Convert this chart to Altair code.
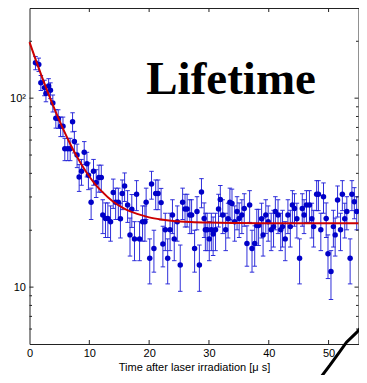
import altair as alt
import pandas as pd

# ---- data ----
t_vals = [1.0, 1.55, 1.9, 2.5, 2.75, 3.2, 3.5, 3.9, 4.4, 4.8, 5.2, 5.6, 5.9, 6.4, 6.8, 7.2, 7.5, 7.95, 8.3, 8.7, 9.15, 9.6,
          9.85, 10.3, 10.7, 11.15, 11.6, 12.0, 12.25, 12.7, 13.1, 13.55, 14.0, 14.4, 14.85, 15.2, 15.5, 15.9, 16.4, 16.8,
          17.1, 17.55, 17.9, 18.4, 18.9, 19.3, 19.5,
          20.1, 20.4, 20.8, 21.1, 21.5, 22.0, 22.3, 22.7, 23.1, 23.5, 23.9, 24.2, 24.7, 25.2, 25.6, 26.0, 26.35, 26.8,
          27.1, 27.6, 28.0, 28.4, 28.75, 29.2,
          29.4, 29.7, 30.05, 30.4, 30.7, 31.1, 31.6, 31.9, 32.3, 32.8, 33.2, 33.5, 33.85, 34.3, 34.7, 35.05, 35.5, 35.9,
          36.35, 36.8, 37.2, 37.65, 38.0, 38.3, 38.8, 39.05,
          39.5, 39.9, 40.4, 40.8, 41.1, 41.55, 42.0, 42.3, 42.75, 43.2, 43.6, 43.95, 44.3, 44.7, 45.15, 45.6, 45.9, 46.3,
          46.8, 47.2, 47.5, 48.0, 48.3, 48.7,
          49.15, 49.6, 49.9, 50.4, 50.8, 51.1, 51.5, 52.0, 52.3, 52.7, 53.05, 53.6, 53.9, 54.3, 54.7]
counts = [153.8, 150.6, 120.8, 113.7, 106, 116, 110, 94.2, 78.2, 78, 71, 71, 54, 54, 54, 75, 59, 50, 38.3, 41, 51.7, 45,
          39.1, 28.1, 41, 35.8, 38, 38, 24.1, 23.1, 23.1, 22.2, 31.7, 28.1, 28.1, 23, 31.3, 34.3, 27.2, 18.9,
          25.8, 18, 31, 18, 22.2, 22.2, 28.1,
          14.2, 35.1, 16, 31.3, 31.3, 28, 16.9, 20.1, 14.2, 20.1, 24.1, 18, 22.2, 13.1, 28.1, 25.9, 25.9, 24.1,
          24.1, 16, 25.1, 13.1, 31.9, 23.1,
          20.1, 20.1, 18, 20.1, 19.1, 20.1, 25.9, 29.1, 24.1, 20.1, 23, 28.1, 27.7, 22.2, 25.1, 23.1, 24.1, 26.1,
          17, 27.2, 16, 17, 21.2, 21.2, 23, 18.9,
          24.1, 22.2, 20.1, 20.9, 25.1, 24.1, 20.1, 20.9, 18, 24.1, 20.9, 27.2, 26.1, 23, 14.2, 26.1, 24.1, 27.2,
          27.2, 23, 20.9, 31, 31, 20.1,
          30.1, 23.1, 15, 12.1, 20.9, 18.9, 28.9, 20.1, 31, 23, 25.1, 14.2, 31, 28.3, 25.1]
errors = [12.4, 12.3, 11.0, 10.7, 10.3, 10.8, 10.5, 9.7, 8.8, 8.8, 8.4, 8.4, 7.3, 7.3, 7.3, 8.7, 7.7, 7.1, 6.2, 6.4, 7.2, 6.7,
          6.3, 5.3, 6.4, 6.0, 6.2, 6.2, 4.9, 4.8, 4.8, 4.7, 5.6, 5.3, 5.3, 4.8, 5.6, 5.9, 5.2, 4.3,
          5.1, 4.2, 5.6, 4.2, 4.7, 4.7, 5.3,
          3.8, 5.9, 4.0, 5.6, 5.6, 5.3, 4.1, 4.5, 3.8, 4.5, 4.9, 4.2, 4.7, 3.6, 5.3, 5.1, 5.1, 4.9,
          4.9, 4.0, 5.0, 3.6, 5.6, 4.8,
          4.5, 4.5, 4.2, 4.5, 4.4, 4.5, 5.1, 5.4, 4.9, 4.5, 4.8, 5.3, 5.3, 4.7, 5.0, 4.8, 4.9, 5.1,
          4.1, 5.2, 4.0, 4.1, 4.6, 4.6, 4.8, 4.3,
          4.9, 4.7, 4.5, 4.6, 5.0, 4.9, 4.5, 4.6, 4.2, 4.9, 4.6, 5.2, 5.1, 4.8, 3.8, 5.1, 4.9, 5.2,
          5.2, 4.8, 4.6, 5.6, 5.6, 4.5,
          5.5, 4.8, 3.9, 3.5, 4.6, 4.3, 5.4, 4.5, 5.6, 4.8, 5.0, 3.8, 5.6, 5.3, 5.0]

fit_t = [0, 1, 2, 3, 4, 5, 6, 7, 8, 9, 10, 11, 12, 14, 16, 18, 20, 22, 24, 27, 30, 35, 40, 55]
fit_v = [197.8, 160.9, 131.7, 108.7, 90.5, 76.1, 64.7, 55.7, 48.6, 43.0, 38.5, 35.0, 32.3, 28.3, 25.9, 24.4,
         23.4, 22.8, 22.4, 22.1, 21.95, 21.85, 21.8, 21.8]

# decorative black arc in the lower right corner (partly outside the axes)
arc_t = [57.5, 56.4, 54.7, 53.0, 51.6, 50.2, 48.3, 47.7]
arc_v = [7.2, 6.63, 5.76, 5.11, 4.43, 3.85, 3.21, 3.08]

y_major = [10, 100]
y_minor = [6, 7, 8, 9, 20, 30, 40, 50, 60, 70, 80, 90, 200]
x_ticks = [10, 20, 30, 40, 50]
x_labels = [0, 10, 20, 30, 40, 50]

W, H = 329, 336

df = pd.DataFrame({"t": t_vals, "v": counts, "e": errors})
df["lo"] = df["v"] - df["e"]
df["hi"] = df["v"] + df["e"]
fit_df = pd.DataFrame({"t": fit_t, "v": fit_v})
arc_df = pd.DataFrame({"t": arc_t, "v": arc_v, "o": list(range(len(arc_t)))})

xs = alt.Scale(domain=[0, 55], nice=False, zero=False)
ys = alt.Scale(type="log", domain=[5, 300], nice=False)
xax = alt.Axis(values=x_labels, title="Time after laser irradiation [μ s]", labelPadding=3,
               titlePadding=3, labelFlush=False)
yax = alt.Axis(values=y_major, labelExpr="datum.value == 100 ? '10\u00b2\u00a0' : '10'", title=None,
               labelPadding=4)


def X(f):
    return alt.X(f"{f}:Q", scale=xs, axis=xax)


def Y(f):
    return alt.Y(f"{f}:Q", scale=ys, axis=yax)


bar_color = "#2424d8"
pt_color = "#0000c8"

bars = alt.Chart(df).mark_rule(color=bar_color, strokeWidth=1, opacity=0.95).encode(
    x=X("t"), y=Y("lo"), y2="hi")
cap_hi = alt.Chart(df).mark_tick(orient="horizontal", size=4.5, thickness=1, color=bar_color, opacity=0.95).encode(
    x=X("t"), y=Y("hi"))
cap_lo = alt.Chart(df).mark_tick(orient="horizontal", size=4.5, thickness=1, color=bar_color, opacity=0.95).encode(
    x=X("t"), y=Y("lo"))
pts = alt.Chart(df).mark_circle(size=30, color=pt_color, opacity=1).encode(x=X("t"), y=Y("v"))

fit = alt.Chart(fit_df).mark_line(color="#cc0000", strokeWidth=2, interpolate="monotone").encode(
    x=X("t"), y=Y("v"))

tick_color = "#222222"
ymaj = pd.DataFrame({"v": y_major})
ymin = pd.DataFrame({"v": y_minor})
xt = pd.DataFrame({"t": x_ticks})
tk = [
    alt.Chart(ymaj).mark_rule(color=tick_color).encode(y=Y("v"), x=alt.value(0), x2=alt.value(4)),
    alt.Chart(ymaj).mark_rule(color=tick_color).encode(y=Y("v"), x=alt.value(W - 4), x2=alt.value(W)),
    alt.Chart(ymin).mark_rule(color=tick_color).encode(y=Y("v"), x=alt.value(0), x2=alt.value(2.5)),
    alt.Chart(ymin).mark_rule(color=tick_color).encode(y=Y("v"), x=alt.value(W - 2.5), x2=alt.value(W)),
    alt.Chart(xt).mark_rule(color=tick_color).encode(x=X("t"), y=alt.value(H), y2=alt.value(H - 4)),
    alt.Chart(xt).mark_rule(color=tick_color).encode(x=X("t"), y=alt.value(0), y2=alt.value(4)),
]

txt_df = pd.DataFrame({"t": [33.7], "v": [105], "label": ["Lifetime"]})
txt = alt.Chart(txt_df).mark_text(font="Liberation Serif", fontSize=47, fontWeight="bold",
                                  baseline="alphabetic", align="center", color="black").encode(
    x=X("t"), y=Y("v"), text="label:N")

arc = alt.Chart(arc_df).mark_line(color="black", strokeWidth=3, clip=False).encode(
    x=X("t"), y=Y("v"), order="o:Q")

chart = alt.layer(bars, cap_hi, cap_lo, pts, fit, *tk, txt, arc).properties(
    width=W, height=H,
    autosize=alt.AutoSizeParams(type="none"),
    padding={"left": 21.5, "top": 0, "right": 0, "bottom": 31},
).configure_view(stroke="#222222", strokeWidth=1).configure_axis(
    domain=False, ticks=False, grid=False,
    labelFont="Liberation Sans", labelFontSize=11, labelColor="black",
    titleFont="Liberation Sans", titleFontSize=11, titleFontWeight="normal", titleColor="black",
)

chart.save("out.html", embed_options={"renderer": "svg", "actions": False})
